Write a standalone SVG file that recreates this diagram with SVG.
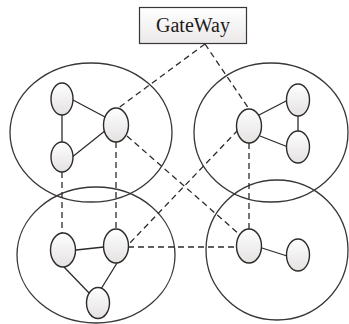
<svg xmlns="http://www.w3.org/2000/svg" width="349" height="324" viewBox="0 0 349 324">
<style>
.zone{fill:none;stroke:#3a3636;stroke-width:1.3}
.node{fill:url(#ng);stroke:#2e2a2a;stroke-width:1.4}
.solid{stroke:#2e2a2a;stroke-width:1.3;fill:none}
.dash{stroke:#2e2a2a;stroke-width:1.3;fill:none;stroke-dasharray:6 4}
.box{fill:url(#bg);stroke:#3a3636;stroke-width:1.2}
.label{font-family:"Liberation Serif","Times New Roman",serif;font-size:20px;fill:#1e1a1a}
</style>
<defs>
<linearGradient id="ng" x1="0" y1="0" x2="0" y2="1">
<stop offset="0" stop-color="#ffffff"/>
<stop offset="1" stop-color="#e4e1e1"/>
</linearGradient>
<linearGradient id="bg" x1="0" y1="0" x2="0" y2="1">
<stop offset="0" stop-color="#ffffff"/>
<stop offset="1" stop-color="#ebe8e8"/>
</linearGradient>
</defs>
<rect width="349" height="324" fill="#ffffff"/>
<g id="zones">
<ellipse class="zone" cx="91" cy="132.5" rx="81" ry="69.5"/>
<ellipse class="zone" cx="271" cy="132.5" rx="77" ry="69.5"/>
<ellipse class="zone" cx="96" cy="255" rx="79" ry="68"/>
<ellipse class="zone" cx="277" cy="250" rx="71" ry="70"/>
</g>
<g id="connectors">
<line class="dash" x1="205" y1="44" x2="117" y2="109"/>
<line class="dash" x1="205" y1="44" x2="249" y2="109"/>
<line class="dash" x1="62" y1="172" x2="62" y2="233"/>
<line class="dash" x1="116" y1="142" x2="116" y2="229"/>
<line class="dash" x1="249" y1="143" x2="249" y2="229"/>
<line class="dash" x1="127" y1="136" x2="239" y2="234"/>
<line class="dash" x1="238" y1="130" x2="128" y2="245"/>
<line class="dash" x1="128" y1="247" x2="237" y2="247"/>
<line class="solid" x1="62" y1="115" x2="62" y2="142"/>
<line class="solid" x1="73" y1="100" x2="105" y2="117"/>
<line class="solid" x1="71" y1="158" x2="106" y2="130"/>
<line class="solid" x1="259" y1="115" x2="288" y2="100"/>
<line class="solid" x1="260" y1="136" x2="288" y2="147"/>
<line class="solid" x1="298" y1="116" x2="298" y2="131"/>
<line class="solid" x1="76" y1="250" x2="104" y2="247"/>
<line class="solid" x1="64" y1="267" x2="91" y2="295"/>
<line class="solid" x1="117" y1="263" x2="101" y2="289"/>
<line class="solid" x1="262" y1="248" x2="287" y2="256"/>
</g>
<g id="gateway">
<rect class="box" x="139.5" y="7.5" width="107" height="36"/>
<text class="label" x="193" y="32" text-anchor="middle">GateWay</text>
</g>
<g id="n-tl1"><ellipse class="node" cx="62" cy="99" rx="11" ry="16"/></g>
<g id="n-tl2"><ellipse class="node" cx="62" cy="157" rx="11" ry="15"/></g>
<g id="n-tl3"><ellipse class="node" cx="116" cy="125" rx="12.5" ry="17"/></g>
<g id="n-tr1"><ellipse class="node" cx="249" cy="126" rx="12.5" ry="17"/></g>
<g id="n-tr2"><ellipse class="node" cx="298" cy="100" rx="11.5" ry="16"/></g>
<g id="n-tr3"><ellipse class="node" cx="298" cy="147" rx="11.5" ry="16"/></g>
<g id="n-bl1"><ellipse class="node" cx="63" cy="250" rx="12.5" ry="17"/></g>
<g id="n-bl2"><ellipse class="node" cx="116" cy="246" rx="12.5" ry="17"/></g>
<g id="n-bl3"><ellipse class="node" cx="98" cy="303" rx="11.5" ry="15.5"/></g>
<g id="n-br1"><ellipse class="node" cx="249" cy="246" rx="12.5" ry="17"/></g>
<g id="n-br2"><ellipse class="node" cx="298" cy="255" rx="11.5" ry="16"/></g>
</svg>
